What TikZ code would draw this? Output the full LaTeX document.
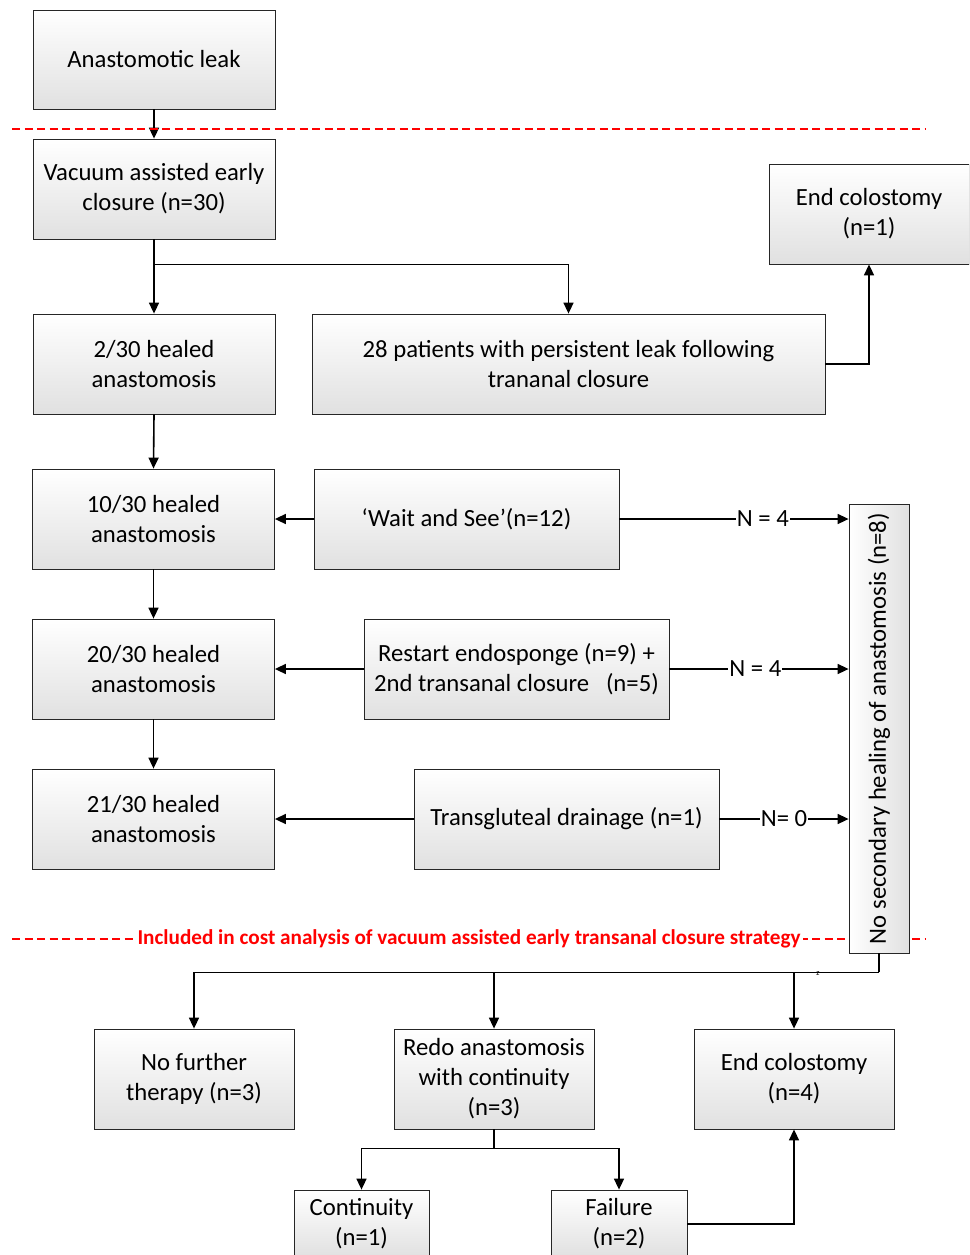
\documentclass[tikz,border=0pt]{standalone}
\usepackage{fontspec}
\setmainfont{Carlito}
\usetikzlibrary{arrows.meta,shadings}
\begin{document}
\begin{tikzpicture}[x=1pt,y=-1pt,
  box/.style={draw=black!85, line width=0.8pt, top color=white, bottom color=black!12,
    align=center, inner sep=0pt, font=\fontsize{24.7}{30}\selectfont},
  conn/.style={line width=1.6pt, -{Triangle[length=11pt,width=10pt]}},
  plain/.style={line width=1.6pt},
  lab/.style={fill=white, inner sep=1pt, font=\fontsize{24.7}{28}\selectfont},
  reddash/.style={red, line width=1.4pt, dash pattern=on 8pt off 4.5pt}]
\clip (0,0) rectangle (969,1255);
\fill[white] (0,0) rectangle (969,1255);
% bottom dashed line with label
\draw[reddash] (12,939) -- (925,939);
\node[fill=white, inner sep=2pt, text=red, font=\bfseries\fontsize{21.2}{24}\selectfont] (incl) at (469,939)
  {Included in cost analysis of vacuum assisted early transanal closure strategy};
% boxes
\node[box, minimum width=242pt, minimum height=99pt] (leak) at (154,59.5) {Anastomotic leak};
\node[box, minimum width=242pt, minimum height=100pt] (vac) at (154,189) {Vacuum assisted early\\closure (n=30)};
\node[box, minimum width=200pt, minimum height=100pt] (endc1) at (869,214) {End colostomy\\(n=1)};
\node[box, minimum width=242pt, minimum height=100pt] (h2) at (154,364) {2/30 healed\\anastomosis};
\node[box, minimum width=513pt, minimum height=100pt] (pers) at (568.5,364) {28 patients with persistent leak following\\trananal closure};
\node[box, minimum width=242pt, minimum height=100pt] (h10) at (153.5,519) {10/30 healed\\anastomosis};
\node[box, minimum width=305pt, minimum height=100pt] (wait) at (466.5,519) {‘Wait and See’(n=12)};
\node[box, minimum width=242pt, minimum height=100pt] (h20) at (153.5,669) {20/30 healed\\anastomosis};
\node[box, minimum width=305pt, minimum height=100pt] (restart) at (516.5,669) {Restart endosponge (n=9) +\\2nd transanal closure\ \ \ (n=5)};
\node[box, minimum width=242pt, minimum height=100pt] (h21) at (153.5,819) {21/30 healed\\anastomosis};
\node[box, minimum width=305pt, minimum height=100pt] (trans) at (566.5,819) {Transgluteal drainage (n=1)};
\node[box, shading angle=90, minimum width=449pt, minimum height=60pt, rotate=90] (nosec) at (879,728.5) {No secondary healing of anastomosis (n=8)};
\node[box, minimum width=200pt, minimum height=100pt] (nofur) at (194,1079) {No further\\therapy (n=3)};
\node[box, minimum width=200pt, minimum height=100pt] (redo) at (494,1079) {Redo anastomosis\\with continuity\\(n=3)};
\node[box, minimum width=200pt, minimum height=100pt] (endc4) at (794,1079) {End colostomy\\(n=4)};
\node[box, minimum width=135pt, minimum height=68pt] (cont) at (361.5,1224) {Continuity\\(n=1)};
\node[box, minimum width=136pt, minimum height=68pt] (fail) at (619,1224) {Failure\\(n=2)};
% connectors
\draw[conn] (leak) -- (vac);
\draw[plain] (vac.south) -- ++(0,25) coordinate (j1);
\draw[conn] (j1) -- (h2.north);
\draw[conn] (j1) -| (pers.north);
\draw[conn] (pers.east) -| (endc1.south);
\draw[conn] (h2.south) -- (h10.north);
\draw[conn] (h10) -- (h20);
\draw[conn] (h20) -- (h21);
\draw[conn] (wait) -- (h10);
\draw[conn] (restart) -- (h20);
\draw[conn] (trans) -- (h21);
\draw[conn] (wait.east) -- (wait.east -| nosec.north) node[lab, pos=0.626] {N = 4};
\draw[conn] (restart.east) -- (restart.east -| nosec.north) node[lab, pos=0.48] {N = 4};
\draw[conn] (trans.east) -- (trans.east -| nosec.north) node[lab, pos=0.5] {N= 0};
\draw[plain] (nosec.west) -- ++(0,19) coordinate (j2);
\draw[conn] (j2) -| (nofur.north);
\draw[conn] (j2 -| redo.north) -- (redo.north);
\draw[conn] (j2 -| endc4.north) -- (endc4.north);
\node[font=\fontsize{8}{9}\selectfont, inner sep=0pt] (zz) at (818,974) {z};
\draw[plain] (redo.south) -- ++(0,19) coordinate (j3);
\draw[conn] (j3) -| (cont.north);
\draw[conn] (j3) -| (fail.north);
\draw[conn] (fail.east) -| (endc4.south);
% top dashed line
\draw[reddash] (12,129) -- (925,129);
\end{tikzpicture}
\end{document}
